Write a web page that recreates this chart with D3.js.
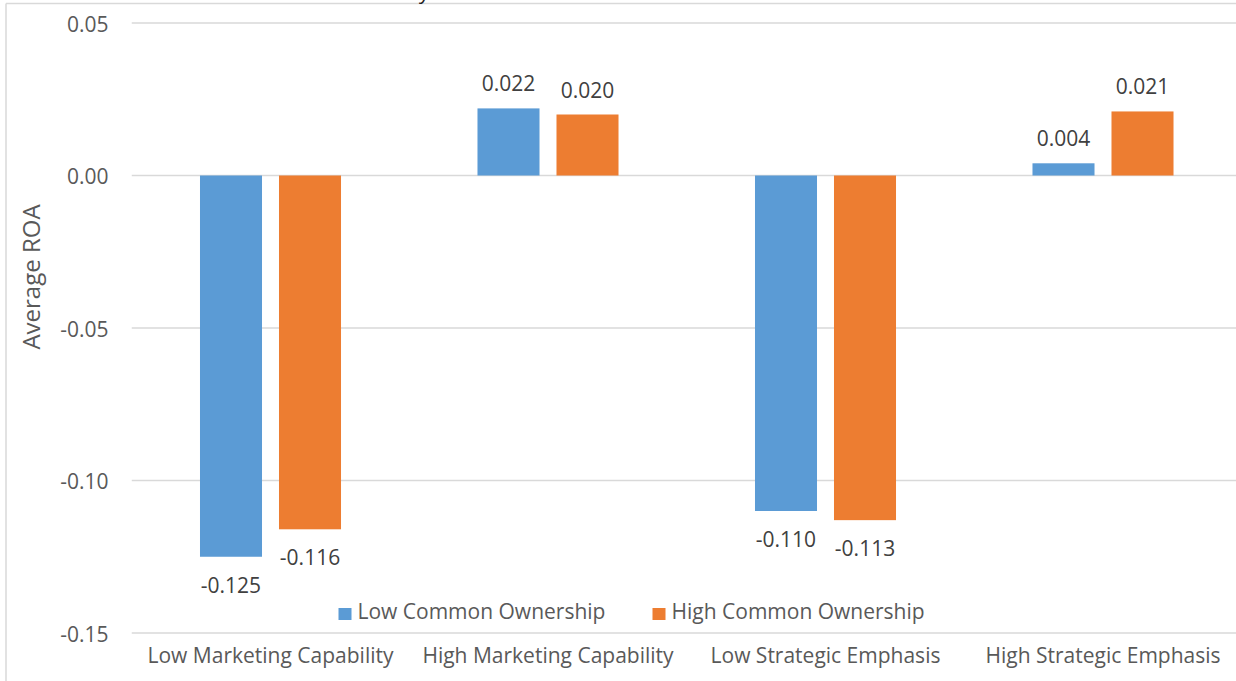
<!DOCTYPE html>
<html>
<head>
<meta charset="utf-8">
<script src="https://cdn.jsdelivr.net/npm/d3@7"></script>
<style>
  html, body { margin: 0; padding: 0; background: #fff; }
  svg { display: block; }
  text { font-family: "Open Sans", sans-serif; }
</style>
</head>
<body>
<svg id="chart" width="1236" height="681"></svg>
<script>
const categories = ["Low Marketing Capability", "High Marketing Capability", "Low Strategic Emphasis", "High Strategic Emphasis"];
const seriesNames = ["Low Common Ownership", "High Common Ownership"];
const lowCommon = [-0.125, 0.022, -0.110, 0.004];
const highCommon = [-0.116, 0.020, -0.113, 0.021];
const yTicks = [0.05, 0.00, -0.05, -0.10, -0.15];
const colors = ["#5b9bd5", "#ed7d31"];

const svg = d3.select("#chart");
const W = 1236, H = 681;
const plot = { left: 131.75, right: 1241.75, top: 23, bottom: 633 };
const fontSize = 21;
const FF = "'Open Sans', sans-serif";

// outer chart border (partially cropped)
svg.append("line").attr("x1", 6).attr("x2", W).attr("y1", 3.5).attr("y2", 3.5)
  .attr("stroke", "#d9d9d9").attr("stroke-width", 1.5);
svg.append("line").attr("x1", 6).attr("x2", 6).attr("y1", 3.5).attr("y2", H)
  .attr("stroke", "#d9d9d9").attr("stroke-width", 1.5);

// cropped glyph from the page above
svg.append("text").attr("x", 421).attr("y", -1)
  .attr("font-family", "'DejaVu Serif', serif").attr("font-style", "italic")
  .attr("font-size", 20).attr("fill", "#222").text("y");

const y = d3.scaleLinear().domain([-0.15, 0.05]).range([plot.bottom, plot.top]);
const x0 = d3.scaleBand().domain(categories).range([plot.left, plot.right]).padding(0);
const x1 = d3.scaleBand().domain(seriesNames)
  .range([x0.bandwidth() * 0.2459, x0.bandwidth() * (1 - 0.2459)]).paddingInner(0.215);

// gridlines
svg.append("g").selectAll("line").data(yTicks).join("line")
  .attr("x1", plot.left).attr("x2", W)
  .attr("y1", d => y(d)).attr("y2", d => y(d))
  .attr("stroke", "#d9d9d9").attr("stroke-width", 1.5);

// y axis labels
const yAxis = d3.axisLeft(y).tickValues(yTicks).tickFormat(d3.format(".2f")).tickSize(0).tickPadding(0);
const ya = svg.append("g").attr("transform", `translate(${108.5},0)`).call(yAxis);
ya.select(".domain").remove();
ya.selectAll("text").attr("font-size", fontSize).attr("fill", "#595959")
  .attr("font-family", FF).attr("dy", "0.4em")
  .text(d => d3.format(".2f")(d).replace("−", "-"));

// x axis labels
const xAxis = d3.axisBottom(x0).tickSize(0).tickPadding(0);
const xa = svg.append("g").attr("transform", `translate(0,${649})`).call(xAxis);
xa.select(".domain").remove();
xa.selectAll("text").attr("font-size", fontSize).attr("fill", "#595959")
  .attr("font-family", FF).attr("dy", "0.67em");

// bars
const data = categories.map((c, i) => ({ cat: c, vals: [
  { s: seriesNames[0], v: lowCommon[i], k: 0 },
  { s: seriesNames[1], v: highCommon[i], k: 1 }
]}));

const groups = svg.append("g").selectAll("g").data(data).join("g")
  .attr("transform", d => `translate(${x0(d.cat)},0)`);

groups.selectAll("rect").data(d => d.vals).join("rect")
  .attr("x", d => x1(d.s)).attr("width", x1.bandwidth())
  .attr("y", d => Math.min(y(d.v), y(0)))
  .attr("height", d => Math.abs(y(d.v) - y(0)))
  .attr("fill", d => colors[d.k]);

groups.selectAll("text.lbl").data(d => d.vals).join("text").attr("class", "lbl")
  .attr("x", d => x1(d.s) + x1.bandwidth() / 2)
  .attr("y", d => d.v >= 0 ? y(d.v) - 17 : y(d.v) + 36)
  .attr("text-anchor", "middle").attr("font-size", fontSize).attr("fill", "#404040")
  .text(d => d3.format(".3f")(d.v).replace("−", "-"));

// legend
const legendX = [338.5, 652.5];
const lg = svg.append("g").selectAll("g").data(seriesNames).join("g")
  .attr("transform", (d, i) => `translate(${legendX[i]},0)`);
lg.append("rect").attr("x", 0).attr("y", 608).attr("width", 13).attr("height", 12)
  .attr("fill", (d, i) => colors[i]);
lg.append("text").attr("x", 19).attr("y", 619.3).attr("font-size", fontSize)
  .attr("fill", "#595959").text(d => d);

// y axis title
svg.append("text").attr("transform", "translate(40,277) rotate(-90)")
  .attr("text-anchor", "middle").attr("font-size", 24).attr("fill", "#595959")
  .text("Average ROA");
</script>
</body>
</html>
